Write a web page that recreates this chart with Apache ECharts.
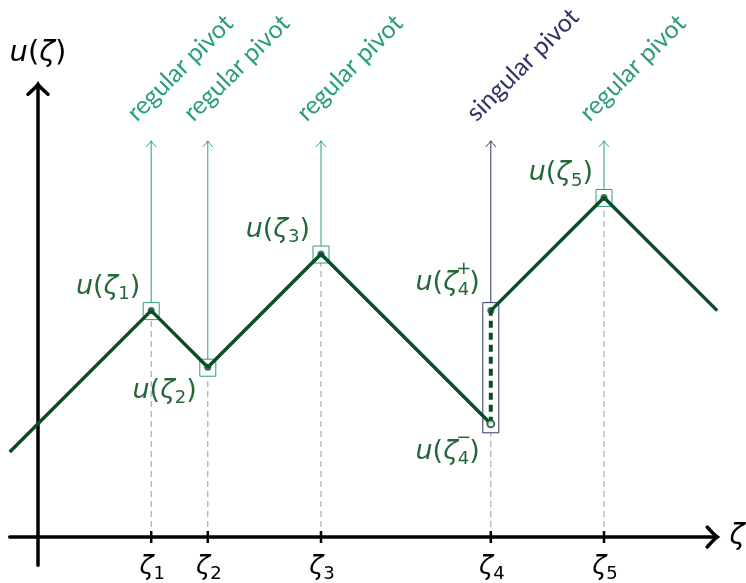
<!DOCTYPE html>
<html lang="en">
<head>
    <meta charset="UTF-8">
    <title>pivots</title>
    <script src="https://cdn.jsdelivr.net/npm/echarts@6/dist/echarts.min.js"></script>
</head>
<body style="margin: 0">
    <div id="chart" style="width: 746px; height: 583px;"></div>
    <script>
        // pivot positions on the zeta axis and the marker box extent (u values)
        const pivotX = [2, 3, 5, 8, 10];
        const pivotLow = [4, 3, 5, 2, 6];
        const pivotHigh = [4, 3, 5, 4, 6];
        const pivotKind = ['regular', 'regular', 'regular', 'singular', 'regular'];
        const pivotSub = ['1', '2', '3', '4', '5'];
        const arrowTop = 7;

        // piecewise linear u(zeta), jump at zeta_4
        const curveLeft = [[-0.5, 1.5], [2, 4], [3, 3], [5, 5], [8, 2]];
        const curveRight = [[8, 4], [10, 6], [12, 4]];
        const jump = [[8, 2], [8, 4]];
        const filledPoints = [[2, 4], [3, 3], [5, 5], [8, 4], [10, 6]];
        const openPoints = [[8, 2]];

        // value labels: x, u, subscript, side (-1 above, 1 below), superscript
        const labelX = [2, 3, 5, 8, 8, 10];
        const labelU = [4, 3, 5, 4, 2, 6];
        const labelSub = ['1', '2', '3', '4', '4', '5'];
        const labelSide = [-1, 1, -1, -1, 1, -1];
        const labelSup = ['', '', '', '+', '−', ''];

        // axes extent
        const axisX = [-0.5, 12];
        const axisY = [-0.5, 8];

        const GREEN = '#0b4d26';
        const LABEL_GREEN = '#24683a';
        const colors = { regular: '#2a9d7f', singular: '#2c3566' };
        const FONT = 'Lato, "Open Sans", sans-serif';
        const MATH = '"DejaVu Sans", sans-serif';

        function mathRich(fill, size, subSize, subDrop) {
            return {
                m: { fontFamily: MATH, fontStyle: 'italic', fontSize: size, lineHeight: size + 6, fill: fill },
                p: { fontFamily: MATH, fontSize: size, lineHeight: size + 6, fill: fill },
                s: { fontFamily: MATH, fontSize: subSize, lineHeight: subSize, padding: [subDrop || 12, 0, 0, 0], verticalAlign: 'bottom', fill: fill }
            };
        }

        const myChart = echarts.init(document.getElementById('chart'));

        const option = {
            animation: false,
            grid: { left: 9.7, right: 0.5, top: 5, bottom: 17.7 },
            xAxis: { type: 'value', min: -0.5, max: 12.5, show: false },
            yAxis: { type: 'value', min: -0.5, max: 9.4, show: false },
            series: [
                // axes with arrow heads
                {
                    type: 'custom',
                    z: 1,
                    data: [[axisX[0], axisX[1], axisY[0], axisY[1]]],
                    renderItem: function (params, api) {
                        const xs = api.coord([api.value(0), 0]);
                        const xe = api.coord([api.value(1), 0]);
                        const ys = api.coord([0, api.value(2)]);
                        const ye = api.coord([0, api.value(3)]);
                        const st = { stroke: '#000', lineWidth: 3.5, fill: null, lineCap: 'round' };
                        return {
                            type: 'group',
                            children: [
                                { type: 'line', shape: { x1: xs[0], y1: xs[1], x2: xe[0] - 2, y2: xe[1] }, style: st },
                                { type: 'line', shape: { x1: ys[0], y1: ys[1], x2: ye[0], y2: ye[1] + 2 }, style: st },
                                {
                                    type: 'path',
                                    shape: { pathData: `M${xe[0] - 10},${xe[1] - 10} Q${xe[0] - 3},${xe[1] - 2} ${xe[0]},${xe[1]} Q${xe[0] - 3},${xe[1] + 2} ${xe[0] - 10},${xe[1] + 10}` },
                                    style: st
                                },
                                {
                                    type: 'path',
                                    shape: { pathData: `M${ye[0] - 10},${ye[1] + 10} Q${ye[0] - 2},${ye[1] + 3} ${ye[0]},${ye[1]} Q${ye[0] + 2},${ye[1] + 3} ${ye[0] + 10},${ye[1] + 10}` },
                                    style: st
                                },
                                {
                                    type: 'text', x: xe[0] + 20, y: xe[1],
                                    style: { text: 'ζ', font: 'italic 28px ' + MATH, fill: '#000', align: 'center', verticalAlign: 'middle' }
                                },
                                {
                                    type: 'text', x: ye[0], y: ye[1] - 31,
                                    style: {
                                        text: '{m|u}{p|(}{m|ζ}{p|)}', align: 'center', verticalAlign: 'middle',
                                        rich: mathRich('#000', 29, 18)
                                    }
                                }
                            ]
                        };
                    }
                },
                // pivots: dashed drop line, arrow, marker box, rotated label, tick
                {
                    type: 'custom',
                    z: 2,
                    data: pivotX.map((x, i) => [x, pivotLow[i], pivotHigh[i], i]),
                    renderItem: function (params, api) {
                        const i = api.value(3);
                        const base = api.coord([api.value(0), 0]);
                        const lo = api.coord([api.value(0), api.value(1)]);
                        const hi = api.coord([api.value(0), api.value(2)]);
                        const tip = api.coord([api.value(0), arrowTop]);
                        const col = colors[pivotKind[i]];
                        const h = 8;
                        return {
                            type: 'group',
                            children: [
                                {
                                    type: 'line',
                                    shape: { x1: base[0], y1: base[1], x2: lo[0], y2: lo[1] + h + 1 },
                                    style: { stroke: '#9a9a9a', lineWidth: 1, lineDash: [6, 4] }
                                },
                                {
                                    type: 'line',
                                    shape: { x1: hi[0], y1: hi[1] - h, x2: tip[0], y2: tip[1] },
                                    style: { stroke: col, lineWidth: 1 }
                                },
                                {
                                    type: 'path',
                                    shape: { pathData: `M${tip[0] - 5},${tip[1] + 6} Q${tip[0] - 1},${tip[1] + 2} ${tip[0]},${tip[1]} Q${tip[0] + 1},${tip[1] + 2} ${tip[0] + 5},${tip[1] + 6}` },
                                    style: { stroke: col, lineWidth: 1, fill: null }
                                },
                                {
                                    type: 'rect',
                                    shape: { x: hi[0] - h, y: hi[1] - h, width: 2 * h, height: lo[1] - hi[1] + 2 * h + 1 },
                                    style: { stroke: col, lineWidth: 1, fill: null }
                                },
                                {
                                    type: 'text', x: tip[0] - 20, y: tip[1] - 24, rotation: Math.PI / 4,
                                    style: { text: pivotKind[i] + ' pivot', font: '25px ' + FONT, fill: col, align: 'left', verticalAlign: 'middle' }
                                },
                                {
                                    type: 'line',
                                    shape: { x1: base[0], y1: base[1] - 6, x2: base[0], y2: base[1] + 6 },
                                    style: { stroke: '#000', lineWidth: 2.5 }
                                },
                                {
                                    type: 'text', x: base[0] + 1, y: base[1] + 30,
                                    style: {
                                        text: '{m|ζ}{s|' + pivotSub[i] + '}', align: 'center', verticalAlign: 'middle',
                                        rich: mathRich('#000', 26, 18)
                                    }
                                }
                            ]
                        };
                    }
                },
                {
                    type: 'line',
                    z: 5,
                    data: curveLeft,
                    symbol: 'none',
                    lineStyle: { color: GREEN, width: 3.5 }
                },
                {
                    type: 'line',
                    z: 5,
                    data: curveRight,
                    symbol: 'none',
                    lineStyle: { color: GREEN, width: 3.5 }
                },
                {
                    type: 'line',
                    z: 5,
                    data: jump,
                    symbol: 'none',
                    lineStyle: { color: GREEN, width: 4, type: [7, 5] }
                },
                {
                    type: 'scatter',
                    z: 6,
                    data: filledPoints,
                    symbolSize: 7,
                    itemStyle: { color: GREEN }
                },
                {
                    type: 'scatter',
                    z: 6,
                    data: openPoints,
                    symbolSize: 7,
                    itemStyle: { color: '#fff', borderColor: GREEN, borderWidth: 2 }
                },
                // value labels u(zeta_i)
                {
                    type: 'custom',
                    z: 7,
                    data: labelX.map((x, i) => [x, labelU[i], i]),
                    renderItem: function (params, api) {
                        const i = api.value(2);
                        const p = api.coord([api.value(0), api.value(1)]);
                        const hasSup = !!labelSup[i];
                        const dy = labelSide[i] * (hasSup ? 28 : 24);
                        const children = [{
                            type: 'text', x: p[0] - 11, y: p[1] + dy,
                            style: {
                                text: '{m|u}{p|(}{m|ζ}{s|' + labelSub[i] + '}{p|)}',
                                align: 'right', verticalAlign: 'middle',
                                rich: mathRich(LABEL_GREEN, 27, 18, hasSup ? 16 : 12)
                            }
                        }];
                        if (hasSup) {
                            children.push({
                                type: 'text', x: p[0] - 27, y: p[1] + dy - 13,
                                style: { text: labelSup[i], font: '18px ' + MATH, fill: LABEL_GREEN, align: 'center', verticalAlign: 'middle' }
                            });
                        }
                        return { type: 'group', children: children };
                    }
                }
            ]
        };

        myChart.setOption(option);
    </script>
</body>
</html>
